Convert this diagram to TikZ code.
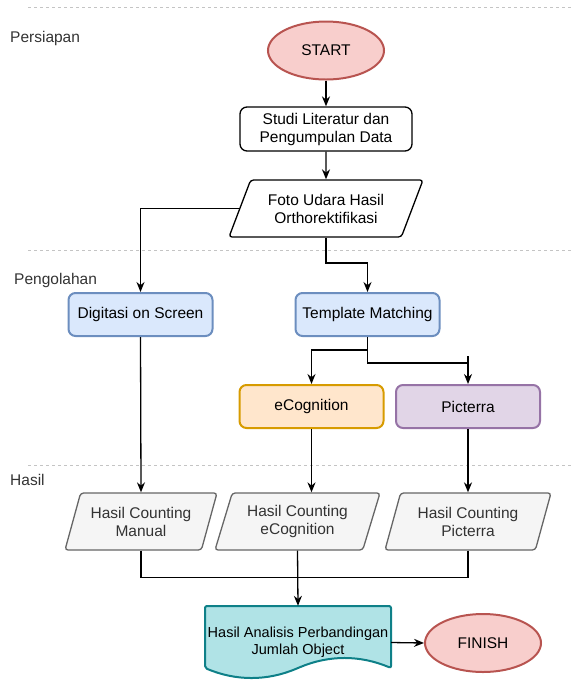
\documentclass[tikz,border=0pt]{standalone}
\usepackage{fontspec}
\setmainfont{Liberation Sans}
\usepackage{tikz}
\usetikzlibrary{calc,shapes.geometric,arrows.meta}
\usepackage{xcolor}
\definecolor{redfill}{HTML}{F8CECC}
\definecolor{redline}{HTML}{B85450}
\definecolor{bluefill}{HTML}{DAE8FC}
\definecolor{blueline}{HTML}{6C8EBF}
\definecolor{orangefill}{HTML}{FFE6CC}
\definecolor{orangeline}{HTML}{D79B00}
\definecolor{purplefill}{HTML}{E1D5E7}
\definecolor{purpleline}{HTML}{9673A6}
\definecolor{grayfill}{HTML}{F5F5F5}
\definecolor{grayline}{HTML}{666666}
\definecolor{tealfill}{HTML}{B0E3E6}
\definecolor{tealline}{HTML}{0E8088}
\definecolor{lanegray}{HTML}{C4C4C4}
\definecolor{txtgray}{HTML}{333333}

\begin{document}
\begin{tikzpicture}[x=1pt,y=-1pt,
    every node/.style={font=\fontsize{15.5}{18}\selectfont,align=center,inner sep=0pt},
    box/.style={draw,rounded corners=7pt,line width=1.3pt,minimum width=144pt,minimum height=43pt},
    term/.style={ellipse,draw=redline,fill=redfill,line width=2pt,minimum width=116pt,minimum height=58pt},
    io/.style={trapezium,trapezium stretches body,draw,rounded corners=3pt,line width=1.3pt,minimum height=57pt},
    res/.style={io,draw=grayline,fill=grayfill,text=txtgray,trapezium left angle=62,trapezium right angle=118},
    arr/.style={-{Stealth[length=10pt,width=8pt]},line width=1.3pt},
    lane/.style={draw=lanegray,dash pattern=on 3pt off 3pt,line width=1pt}]
    \useasboundingbox (0,0) rectangle (572,689);

    % Define the lanes
    \foreach \y in {7,250,465}
        \draw[lane] (28,\y) -- (572,\y);
    \node[anchor=west,text=txtgray] (lblprep) at (10,38) {Persiapan};
    \node[anchor=west,text=txtgray] (lblproc) at (14,280) {Pengolahan};
    \node[anchor=west,text=txtgray] (lblres) at (10,480) {Hasil};

    \node[term] (start) at (326,50.5) {START};
    \node[box,fill=white,minimum width=172pt,minimum height=44pt] (studi) at (326,129) {Studi Literatur dan\\Pengumpulan Data};
    \node[io,fill=white,minimum width=194pt,trapezium left angle=53.6,trapezium right angle=126.4] (foto) at (326,208.5) {Foto Udara Hasil\\Orthorektifikasi};

    \node[box,draw=blueline,fill=bluefill,line width=2pt] (dig) at (140.5,314.5) {Digitasi on Screen};
    \node[box,draw=blueline,fill=bluefill,line width=2pt] (tm) at (367.5,314.5) {Template Matching};
    \node[box,draw=orangeline,fill=orangefill,line width=2pt] (ecog) at (311.5,406.5) {eCognition};
    \node[box,draw=purpleline,fill=purplefill,line width=2pt] (pic) at (468,406.5) {Picterra};

    \node[res,minimum width=152pt] (hman) at (141,521.5) {Hasil Counting\\Manual};
    \node[res,minimum width=165pt] (hecog) at (297.5,521.5) {Hasil Counting\\eCognition};
    \node[res,minimum width=166pt] (hpic) at (468,521.5) {Hasil Counting\\Picterra};

    % Define the document shape
    \coordinate (anatl) at (205,606);
    \begin{scope}[shift={(anatl)}]
        \draw[draw=tealline,fill=tealfill,line width=2pt,rounded corners=2pt]
            (0,0) -- (186,0) -- (186,62)
            .. controls (155,48.9) and (124,48.9) .. (93,62)
            .. controls (62,75.1) and (31,75.1) .. (0,62) -- cycle;
    \end{scope}
    \node[minimum width=186pt,minimum height=73pt,font=\fontsize{14.5}{17}\selectfont] (ana) at (298,642.5) {Hasil Analisis Perbandingan\\Jumlah Object};
    \node[term] (fin) at (483,643) {FINISH};

    \draw[arr] (start.south) -- (studi.north);
    \draw[arr] (studi.south) -- (foto.north);
    \draw[arr] (foto.west) -| (dig.north);
    \draw[arr] (foto.south) |- ($(tm.north)+(0,-29)$) -- (tm.north);
    \draw[arr] (tm.south) |- ($(ecog.north)+(0,-34)$) -- (ecog.north);
    \draw[line width=1.3pt] (tm.south) |- ($(pic.north)+(0,-21)$);
    \draw[arr] ($(pic.north)+(0,-28)$) -- (pic.north);

    \draw[arr] (dig.south) -- (hman.north);
    \draw[arr] (ecog.south) -- (ecog.south |- hecog.north);
    \draw[arr] (pic.south) -- (pic.south |- hpic.north);

    \coordinate (join) at ($(ana.north)+(0,-28)$);
    \draw[line width=1.3pt] (hman.south) |- (join);
    \draw[line width=1.3pt] (hpic.south) |- (join);
    \draw[arr] (hecog.south) -- (ana.north);
    \draw[arr] (ana.east) -- (fin.west);
\end{tikzpicture}
\end{document}
